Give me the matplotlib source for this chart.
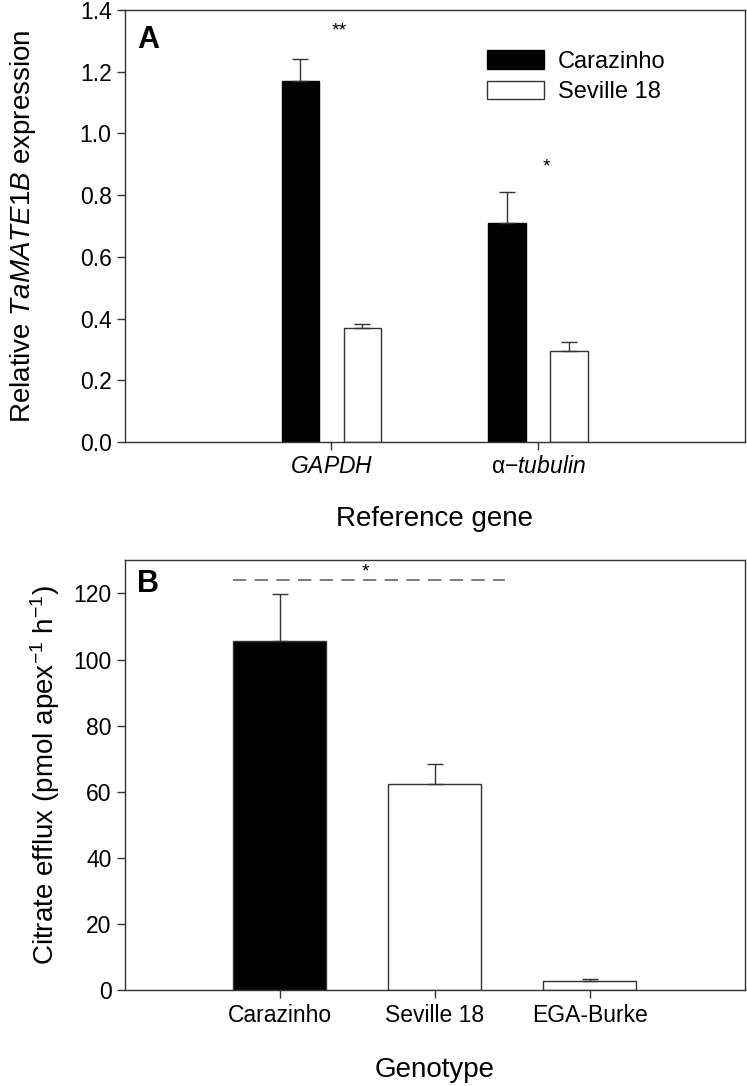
import numpy as np
import matplotlib
matplotlib.use('Agg')
import matplotlib.pyplot as plt

# Panel A data
ref_genes = ['GAPDH', 'alpha-tubulin']
cultivars = ['Carazinho', 'Seville 18']
expr_carazinho = [1.17, 0.71]
expr_carazinho_se = [0.072, 0.10]
expr_seville = [0.37, 0.295]
expr_seville_se = [0.012, 0.03]
stars_a = ['**', '*']
stars_a_y = [1.33, 0.89]

# Panel B data
genotypes = ['Carazinho', 'Seville 18', 'EGA-Burke']
efflux = [105.5, 62.5, 2.8]
efflux_se = [14.3, 5.8, 0.6]
efflux_colors = ['black', 'white', 'white']

plt.rcParams['font.family'] = ['Liberation Sans', 'DejaVu Sans']
plt.rcParams['mathtext.fontset'] = 'custom'
plt.rcParams['mathtext.rm'] = 'Liberation Sans'
plt.rcParams['mathtext.it'] = 'Liberation Sans:italic'
plt.rcParams['mathtext.bf'] = 'Liberation Sans:bold'

fig = plt.figure(figsize=(7.47, 10.86), dpi=100)
ax1 = fig.add_axes([0.167, 0.593, 0.830, 0.398])
ax2 = fig.add_axes([0.167, 0.088, 0.830, 0.396])

def style(ax):
    for s in ax.spines.values():
        s.set_linewidth(1.0)
        s.set_color('#333333')
    ax.tick_params(direction='out', length=6, width=1, color='#333333')
    ax.tick_params(axis='y', labelsize=16.5)

# Panel A
x = np.arange(1, len(ref_genes) + 1)
w = 0.18
off = 0.15
ax1.bar(x - off, expr_carazinho, w, color='black', edgecolor='black', lw=1, label=cultivars[0])
ax1.bar(x + off, expr_seville, w, color='white', edgecolor='#333333', lw=1, label=cultivars[1])
ax1.errorbar(x - off, expr_carazinho, yerr=[np.zeros(len(x)), expr_carazinho_se],
             fmt='none', ecolor='#333333', elinewidth=1, capsize=6, capthick=1)
ax1.errorbar(x + off, expr_seville, yerr=[np.zeros(len(x)), expr_seville_se],
             fmt='none', ecolor='#333333', elinewidth=1, capsize=6, capthick=1)
for xi, st, sy in zip(x, stars_a, stars_a_y):
    ax1.text(xi + 0.04, sy, st, ha='center', va='center', fontsize=14)
ax1.set_xlim(0, 3)
ax1.set_ylim(0, 1.4)
ax1.set_yticks(np.arange(0, 1.41, 0.2))
ax1.set_yticklabels([f'{v:.1f}' for v in np.arange(0, 1.41, 0.2)])
ax1.set_xticks(x)
ax1.set_xticklabels([r'$\it{GAPDH}$', r'$\mathrm{\alpha}\it{-tubulin}$'], fontsize=16.5)
ax1.set_xlabel('Reference gene', fontsize=20, labelpad=20)
ax1.set_ylabel(r'Relative $\it{TaMATE1B}$ expression', fontsize=20, labelpad=30)
ax1.text(0.02, 0.93, 'A', transform=ax1.transAxes, fontsize=22, fontweight='bold',
         va='center')
leg = ax1.legend(loc='upper left', bbox_to_anchor=(0.55, 0.955), frameon=False,
                 prop={'size': 17}, handlelength=2.4, handleheight=0.8,
                 labelspacing=0.35, handletextpad=0.6)
style(ax1)

# Panel B
xb = np.arange(1, len(genotypes) + 1)
ax2.bar(xb, efflux, 0.6, color=efflux_colors, edgecolor='#333333', lw=1)
ax2.errorbar(xb, efflux, yerr=[np.zeros(len(xb)), efflux_se], fmt='none',
             ecolor='#333333', elinewidth=1, capsize=6, capthick=1)
ax2.plot([0.7, 2.45], [124, 124], ls=(0, (8, 5)), color='#666666', lw=1.2)
ax2.text(1.55, 126.5, '*', ha='center', va='center', fontsize=14)
ax2.set_xlim(0, 4)
ax2.set_ylim(0, 130)
ax2.set_yticks(np.arange(0, 121, 20))
ax2.set_xticks(xb)
ax2.set_xticklabels(genotypes, fontsize=16.5)
ax2.set_xlabel('Genotype', fontsize=20, labelpad=22)
ax2.set_ylabel(r'Citrate efflux (pmol apex$^{-1}$ h$^{-1}$)', fontsize=20, labelpad=8)
ax2.text(0.02, 0.945, 'B', transform=ax2.transAxes, fontsize=22, fontweight='bold',
         va='center')
style(ax2)

fig.savefig('out.png', dpi=100)
